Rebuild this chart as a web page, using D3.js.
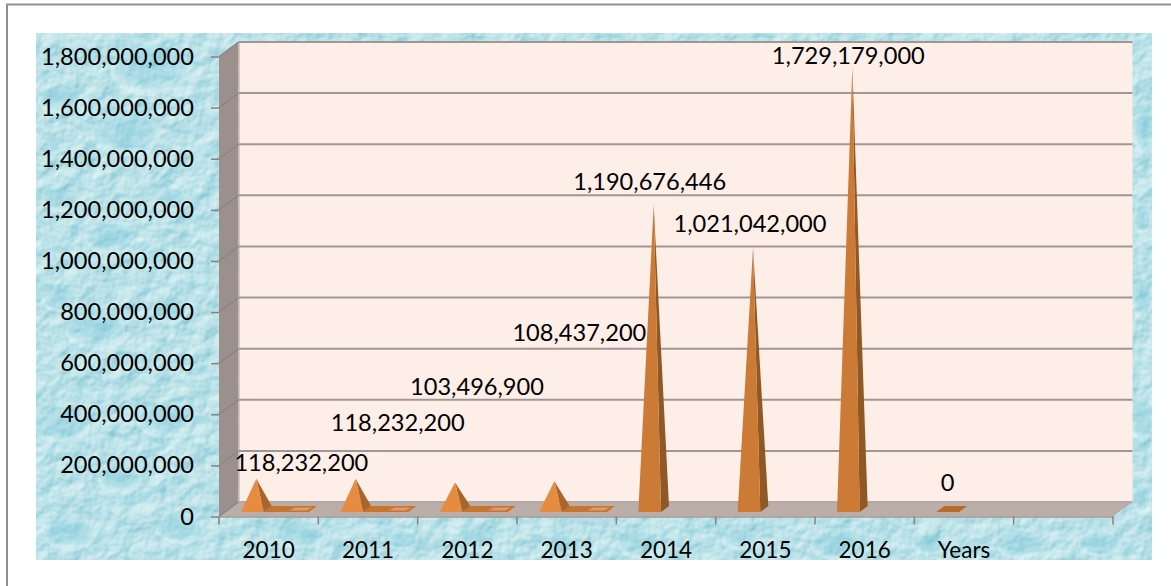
<!DOCTYPE html>
<html><head><meta charset="utf-8">
<script src="https://cdn.jsdelivr.net/npm/d3@7"></script>
<style>html,body{margin:0;padding:0;background:#fff}svg{display:block}text{font-family:Lato,sans-serif;fill:#000}</style>
</head><body><svg id="c" width="1171" height="586"></svg>
<script>
const categories = ["2010","2011","2012","2013","2014","2015","2016","Years",""];
const mainValues = [118232200,118232200,103496900,108437200,1190676446,1021042000,1729179000,0,null];
const series2Values = [0,0,0,0,null,null,null,null,null];
const series3Values = [0,0,0,0,null,null,null,null,null];
const yTicks = [0,2e8,4e8,6e8,8e8,1e9,1.2e9,1.4e9,1.6e9,1.8e9];
const labelOffsets = [[45,-16],[42,-56],[22,-96],[25,-149],[-4,-23],[-3,-24],[-4,-11],[-4,-26]];
const drops = [[125,135,34,22],[60,425,30,18],[70,535,26,16],[150,70,40,26],[110,240,24,16],[95,330,30,20],[165,420,28,18],[180,530,24,14],[300,535,26,14],[840,545,30,16],[1145,130,12,26],[1020,545,24,14],[60,100,22,14],[480,540,20,12],[640,545,22,14],[1142,420,12,22],[1142,300,10,20],[1100,545,22,12],[60,200,18,12],[170,200,16,12],[60,300,18,12],[170,310,18,14],[120,480,22,14],[400,540,18,10],[560,545,16,10],[740,540,18,10],[930,545,18,10],[1142,220,9,14],[1142,500,9,14]];

const svg = d3.select("#c");
const defs = svg.append("defs");
const f = defs.append("filter").attr("id","tex").attr("x",0).attr("y",0).attr("width","100%").attr("height","100%").attr("color-interpolation-filters","sRGB");
f.append("feTurbulence").attr("type","fractalNoise").attr("baseFrequency","0.055").attr("numOctaves",3).attr("seed",11).attr("result","n");
const dl = f.append("feDiffuseLighting").attr("in","n").attr("surfaceScale",1.8).attr("diffuseConstant",1.0).attr("lighting-color","#ffffff").attr("result","l");
dl.append("feDistantLight").attr("azimuth",235).attr("elevation",60);
f.append("feColorMatrix").attr("in","l").attr("type","matrix").attr("values","1.1 0 0 0 -0.22  0.55 0 0 0 0.41  0.38 0 0 0 0.58  0 0 0 0 1");
f.append("feGaussianBlur").attr("stdDeviation",0.7);
const rg = defs.append("radialGradient").attr("id","drop").attr("cy","0.4");
rg.append("stop").attr("offset","0").attr("stop-color","#6cbfd6").attr("stop-opacity",.42);
rg.append("stop").attr("offset","0.75").attr("stop-color","#86cfe0").attr("stop-opacity",.22);
rg.append("stop").attr("offset","1").attr("stop-color","#e8fbfb").attr("stop-opacity",.3);
defs.append("clipPath").attr("id","bgclip").append("rect").attr("x",36).attr("y",33).attr("width",1116).attr("height",527);

// frame
svg.append("path").attr("d","M7,586V4.5H1171").attr("fill","none").attr("stroke","#8f8f8f").attr("stroke-width",2);

// textured background
const bg = svg.append("g").attr("clip-path","url(#bgclip)");
bg.append("rect").attr("x",30).attr("y",27).attr("width",1128).attr("height",539).attr("fill","#a9dee8").attr("filter","url(#tex)");
bg.selectAll("ellipse").data(drops).join("ellipse")
  .attr("cx",d=>d[0]).attr("cy",d=>d[1]).attr("rx",d=>d[2]).attr("ry",d=>d[3]).attr("fill","url(#drop)");

// scales
const y = d3.scaleLinear().domain([0,1.8e9]).range([516.5,56.5]);
const x = d3.scaleBand().domain(categories).range([219,1113]);
const inner = d3.scaleBand().domain([0,1,2]).range([22,90]);
const depthX = 19.5, depthY = 14.5;
const pt = a => a.map(p=>p.join(",")).join(" ");

// walls and floor
const y0=y(0), yT=y(1.8e9), xL=x.range()[0], xR=x.range()[1];
svg.append("polygon").attr("points",pt([[xL+depthX,yT-depthY],[xR+depthX,yT-depthY],[xR+depthX,y0-depthY],[xL+depthX,y0-depthY]])).attr("fill","#fdeee7");
svg.append("polygon").attr("points",pt([[xL,yT],[xL+depthX,yT-depthY],[xL+depthX,y0-depthY],[xL,y0]])).attr("fill","#9c908d");
svg.append("polygon").attr("points",pt([[xL,y0],[xL+depthX,y0-depthY],[xR+depthX,y0-depthY],[xR,y0]])).attr("fill","#bbaea9");
svg.append("line").attr("x1",xL+depthX+.5).attr("x2",xL+depthX+.5).attr("y1",yT-depthY).attr("y2",y0-depthY).attr("stroke","#c9bdb8").attr("stroke-width",1.5);

// gridlines
const grid = svg.append("g");
grid.selectAll("line.h").data(yTicks).join("line").attr("class","h")
  .attr("x1",xL+depthX).attr("x2",xR+depthX).attr("y1",d=>y(d)-depthY).attr("y2",d=>y(d)-depthY)
  .attr("stroke",d=>d===0?"#b5a9a5":"#a09794").attr("stroke-width",2);
grid.selectAll("line.d").data(yTicks).join("line").attr("class","d")
  .attr("x1",xL).attr("x2",xL+depthX).attr("y1",d=>y(d)).attr("y2",d=>y(d)-depthY)
  .attr("stroke","#8d8280").attr("stroke-width",1.2);

// axes
const gy = svg.append("g").attr("transform",`translate(${xL},0)`)
  .call(d3.axisLeft(y).tickValues(yTicks).tickFormat(d3.format(",")).tickSize(8).tickPadding(17));
gy.select(".domain").remove();
gy.selectAll("line").attr("stroke","#8a807e").attr("stroke-width",1.5);
gy.selectAll("text").attr("font-size",23.6).style("font-family","Lato,sans-serif");

const gx = svg.append("g").attr("transform",`translate(0,${y0})`)
  .call(d3.axisBottom(x).tickSize(0).tickPadding(26));
gx.select(".domain").attr("stroke","#a59a97").attr("stroke-width",1.5);
gx.selectAll("text").attr("font-size",22.5).style("font-family","Lato,sans-serif");
gx.selectAll("line.t").data(categories.map(c=>x(c)).concat([xR])).join("line").attr("class","t")
  .attr("x1",d=>d).attr("x2",d=>d).attr("y1",0).attr("y2",8).attr("stroke","#8a807e").attr("stroke-width",1.5);

// pyramids
const baseFront=.31, baseBack=.72;
const base = (c,s)=>{
  const x0=x(c)+inner(s), w=inner.bandwidth();
  const fx=baseFront*depthX, bx=baseBack*depthX, fy=y0-baseFront*depthY, by=y0-baseBack*depthY;
  return {fl:[x0,fy],fr:[x0+w,fy],br:[x0+w+(bx-fx),by],bl:[x0+(bx-fx),by],
          cx:x0+w/2+(bx-fx)/2, cy:(fy+by)/2};
};
const marks = svg.append("g");
const mainData = categories.map((c,i)=>({c,v:mainValues[i],i})).filter(d=>d.v!==null);
[[series3Values,2],[series2Values,1]].forEach(([vals,s])=>{
  categories.forEach((c,i)=>{
    if(vals[i]===null) return;
    const b=base(c,s);
    marks.append("polygon").attr("points",pt([b.fl,b.fr,b.br,b.bl])).attr("fill","#c7742f");
    if(s===2) marks.append("polygon").attr("points",pt([[b.fl[0]+3,b.fl[1]-1.5],[b.fr[0]-3,b.fr[1]-1.5],[b.br[0]-5,b.br[1]+1.5],[b.bl[0]+1,b.bl[1]+1.5]])).attr("fill","#dc9c70");
  });
});
mainData.forEach(d=>{
  const b=base(d.c,0);
  const topY=b.cy-(y0-y(d.v));
  if(d.v===0){
    marks.append("polygon").attr("points",pt([b.fl,b.fr,b.br,b.bl])).attr("fill","#b86a2a");
    return;
  }
  const apex=[b.cx,topY], small=d.v<5e8;
  marks.append("polygon").attr("points",pt([b.fr,b.br,apex])).attr("fill",small?"#a9662c":"#8f5825");
  marks.append("polygon").attr("points",pt([b.fl,b.fr,apex])).attr("fill",small?"#e58c40":"#cb7b36");
});

// value labels
svg.append("g").selectAll("text").data(mainData).join("text")
  .attr("text-anchor","middle").attr("dy",".35em").attr("font-size",23.6)
  .attr("x",d=>base(d.c,0).cx+labelOffsets[d.i][0])
  .attr("y",d=>base(d.c,0).cy-(y0-y(d.v))+labelOffsets[d.i][1])
  .text(d=>d3.format(",")(d.v));
</script></body></html>
